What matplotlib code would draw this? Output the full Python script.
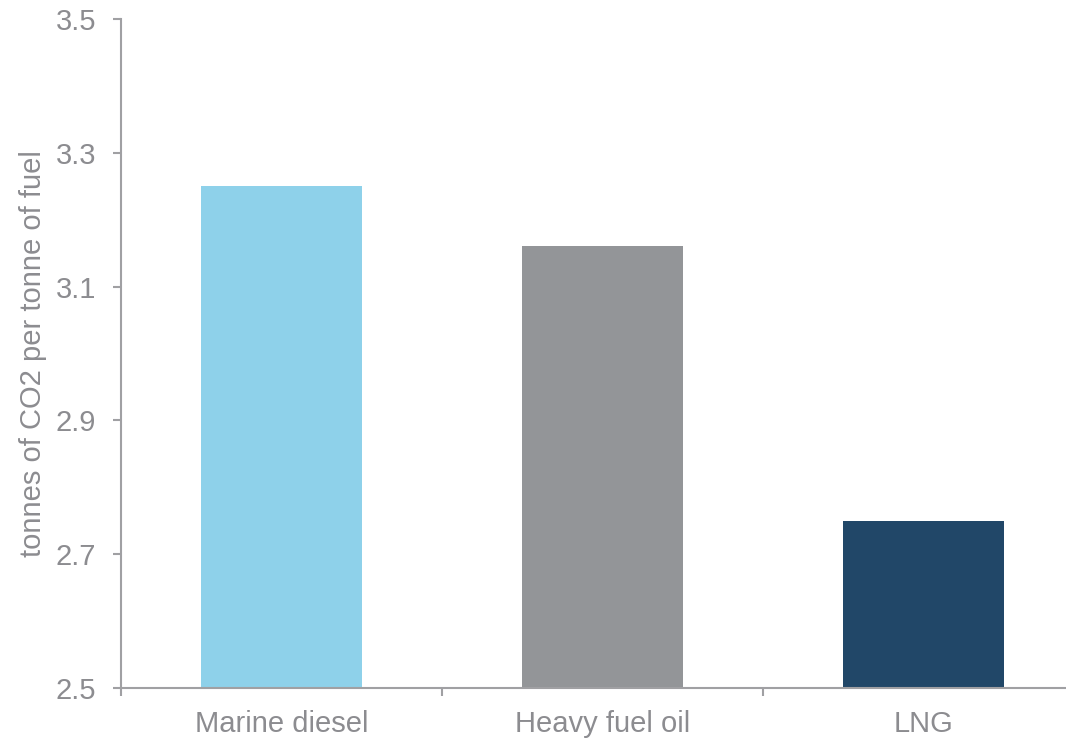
import matplotlib
matplotlib.use("Agg")
import matplotlib.pyplot as plt
import numpy as np

fuels = ["Marine diesel", "Heavy fuel oil", "LNG"]
co2_per_tonne = [3.25, 3.16, 2.75]
bar_colors = ["#8ed1ea", "#939598", "#214768"]
y_ticks = [2.5, 2.7, 2.9, 3.1, 3.3, 3.5]

plt.rcParams['font.family'] = ['Liberation Sans', 'DejaVu Sans']
text_gray = "#8c8c90"
axis_gray = "#a0a0a3"

fig = plt.figure(figsize=(10.66, 7.39), dpi=100)
ax = fig.add_axes([121 / 1066, 51 / 739, (1084 - 121) / 1066, (688 - 19) / 739])

x = np.arange(len(fuels))
ax.bar(x, np.array(co2_per_tonne) - 2.5, bottom=2.5, width=0.5, color=bar_colors, zorder=2)

ax.set_ylim(2.5, 3.5)
ax.set_xlim(-0.5, len(fuels) - 0.5)
ax.set_yticks(y_ticks)
ax.set_yticklabels([f"{t:.1f}" for t in y_ticks])

# category boundaries get the tick marks, labels sit in between
ax.set_xticks(np.arange(-0.5, len(fuels), 1.0))
ax.set_xticklabels([])
ax.set_xticks(x, minor=True)
ax.set_xticklabels(fuels, minor=True)
ax.tick_params(axis='x', which='minor', length=0, pad=16, labelsize=21, labelcolor=text_gray)
ax.tick_params(axis='x', which='major', length=6, width=1.5, color=axis_gray)
ax.tick_params(axis='y', length=6, width=1.5, color=axis_gray, labelsize=21,
               labelcolor=text_gray, pad=12)

for side in ['top', 'right']:
    ax.spines[side].set_visible(False)
for side in ['left', 'bottom']:
    ax.spines[side].set_color(axis_gray)
    ax.spines[side].set_linewidth(1.5)

ax.set_ylabel("tonnes of CO2 per tonne of fuel", fontsize=21, color=text_gray, labelpad=6)

fig.savefig("out.png", dpi=100)
